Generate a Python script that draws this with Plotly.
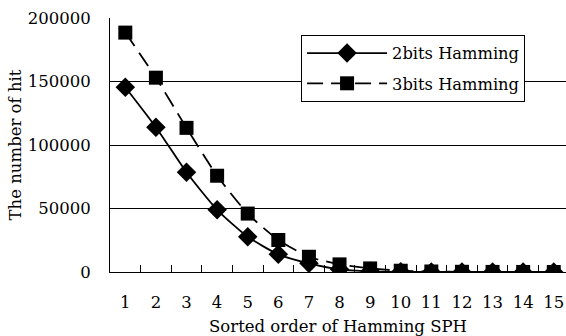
import plotly.graph_objects as go

categories = [str(i) for i in range(1, 16)]
hits_2bits = [145500, 114000, 78500, 49000, 27800, 13900, 6800, 2100, 500, 150, 60, 30, 10, 5, 2]
hits_3bits = [188500, 153000, 113500, 75800, 46000, 25200, 12000, 6000, 2800, 1000, 400, 150, 60, 30, 10]
series_names = ["2bits Hamming", "3bits Hamming"]
y_ticks = [0, 50000, 100000, 150000, 200000]

FONT = "DejaVu Serif"
FS = 16.5

fig = go.Figure()
fig.add_trace(go.Scatter(
    x=categories, y=hits_2bits, name=series_names[0], mode="lines+markers",
    legendgroup="a",
    line=dict(color="black", width=1.8, shape="spline", smoothing=0.6),
    marker=dict(symbol="diamond", size=15, color="black"),
))
fig.add_trace(go.Scatter(
    x=categories, y=hits_3bits, name=series_names[1], mode="lines+markers",
    legendgroup="b",
    line=dict(color="black", width=1.8, dash="16px,8px", shape="spline", smoothing=0.6),
    marker=dict(symbol="square", size=14, color="black"),
))

fig.update_layout(
    width=566, height=336,
    margin=dict(l=110, r=0, t=18, b=64),
    paper_bgcolor="white", plot_bgcolor="white",
    font=dict(family=FONT, size=FS, color="black"),
    showlegend=True,
    legend=dict(
        x=0.419, y=0.933, xanchor="left", yanchor="top",
        bgcolor="white", bordercolor="black", borderwidth=1,
        font=dict(family=FONT, size=16.3, color="black"),
        itemwidth=80, traceorder="grouped", tracegroupgap=6,
    ),
)
fig.update_xaxes(
    type="category", range=[-0.5, 14.4], automargin=False,
    showline=True, linecolor="black", linewidth=1,
    ticks="inside", tickson="boundaries", ticklen=7, tickwidth=1.2, tickcolor="black",
    showgrid=False, ticklabelstandoff=15,
    title=dict(text="Sorted order of Hamming SPH", standoff=10,
               font=dict(family=FONT, size=FS)),
    tickfont=dict(family=FONT, size=FS),
)
fig.update_yaxes(
    range=[0, 200000], tickvals=y_ticks, ticktext=[str(v) for v in y_ticks],
    automargin=False,
    showline=True, linecolor="black", linewidth=1,
    showgrid=True, gridcolor="black", gridwidth=1,
    zeroline=False, ticks="", ticklabelstandoff=15,
    title=dict(text="The number of hit", standoff=1,
               font=dict(family=FONT, size=FS)),
    tickfont=dict(family=FONT, size=FS),
)

fig.write_html("out.html", config={"displayModeBar": False},
               post_script="document.body.style.margin='0px';")
